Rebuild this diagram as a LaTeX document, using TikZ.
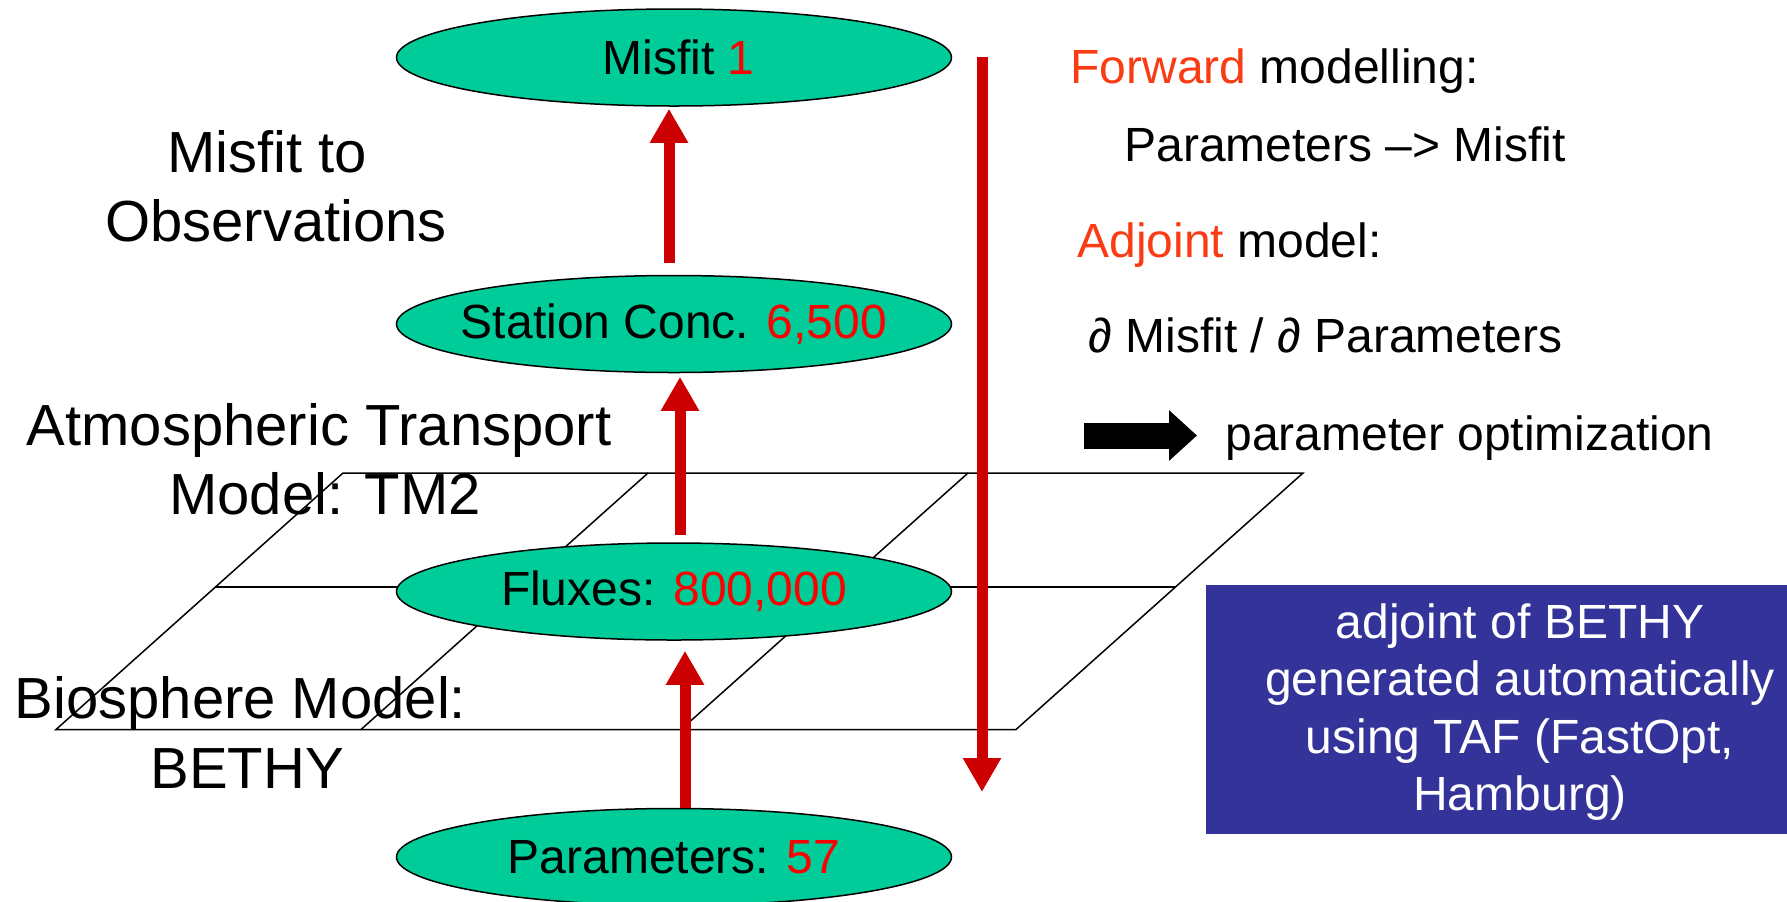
\documentclass[tikz,border=0pt]{standalone}
\usepackage{fontspec}
\setmainfont{Liberation Sans}
\usetikzlibrary{arrows.meta,shapes.geometric}
\definecolor{ellfill}{RGB}{0,204,153}
\definecolor{arrred}{RGB}{204,0,0}
\definecolor{numred}{RGB}{255,0,0}
\definecolor{hlred}{RGB}{250,60,20}
\definecolor{boxblue}{RGB}{51,51,153}
\newcommand\myfontA{\fontsize{24}{28.7}\selectfont}
\newcommand\myfontB{\fontsize{29}{34}\selectfont}
\begin{document}
\begin{tikzpicture}[x=0.5pt,y=-0.5pt,
  ell/.style={ellipse, draw=black, line width=0.75pt, fill=ellfill, minimum width=277.5pt, minimum height=48.5pt, inner sep=0pt, font=\myfontA},
  biglbl/.style={anchor=base, inner sep=0pt, font=\myfontB},
  rtxt/.style={anchor=base west, inner sep=0pt, font=\myfontA},
  gridline/.style={draw=black, line width=0.75pt},
  redarr/.style={draw=arrred, line width=5.5pt, -{Triangle[length=17pt,width=18pt]}},
  blackarr/.style={draw=black, line width=13pt, -{Triangle[length=14pt,width=24.5pt]}},
  bluebox/.style={rectangle, fill=boxblue, inner sep=0pt, minimum width=290.5pt, minimum height=124.5pt}
]
\useasboundingbox (0,0) rectangle (1787,901);

% left labels
\node[biglbl] (l1a) at (267,172.6) {Misfit to};
\node[biglbl] (l1b) at (276,241) {Observations};
\node[biglbl] (l2a) at (319,445) {Atmospheric Transport};
\node[biglbl] (l2b) at (325,514.5) {Model: TM2};
\node[biglbl] (l3a) at (240.5,718.5) {Biosphere Model:};
\node[biglbl] (l3b) at (247,788) {BETHY};

% grid
\coordinate (g1) at (343,473);
\coordinate (g2) at (648,473);
\coordinate (g3) at (968,473);
\coordinate (g4) at (1303,473);
\coordinate (h1) at (56,729.5);
\coordinate (h2) at (361,729.5);
\coordinate (h3) at (681,729.5);
\coordinate (h4) at (1016,729.5);
\coordinate (m1) at (215.4,587);
\coordinate (m2) at (1175.4,587);
\draw[gridline] (g1) -- (g4) -- (h4) -- (h1) -- cycle;
\draw[gridline] (g2) -- (h2);
\draw[gridline] (g3) -- (h3);
\draw[gridline] (m1) -- (m2);

% ellipses
\node[ell] (misfit) at (674,57.5) {\makebox[0pt]{\hspace*{4.5pt}Misfit \textcolor{numred}{1}}};
\node[ell] (station) at (674,324) {\makebox[0pt]{Station Conc. \textcolor{numred}{6,500}}};
\node[ell] (fluxes) at (674,591.5) {\makebox[0pt]{Fluxes: \textcolor{numred}{800,000}}};
\node[ell] (params) at (674,857) {\makebox[0pt]{Parameters: \textcolor{numred}{57}}};

% red arrows
\draw[redarr] ([xshift=-2.5pt,yshift=5.75pt]station.north) -- ([xshift=-2.5pt,yshift=-1pt]misfit.south);
\draw[redarr] ([xshift=3pt,yshift=3.5pt]fluxes.north) -- ([xshift=3pt,yshift=-1.75pt]station.south);
\draw[redarr] ([xshift=5.5pt]params.north) -- ([xshift=5.5pt,yshift=-5pt]fluxes.south);
\coordinate (dtop) at (982,57);
\coordinate (dbot) at (982,792);
\draw[redarr] (dtop) -- (dbot);

% right text
\node[rtxt] (fw) at (1070,83) {\textcolor{hlred}{Forward} modelling:};
\node[rtxt] (pm) at (1124,161) {Parameters \textendash> Misfit};
\node[rtxt] (ad) at (1077,257) {\textcolor{hlred}{Adjoint} model:};
\node[rtxt] (dd) at (1088,352) {∂ Misfit / ∂ Parameters};
\coordinate (ba1) at (1084,435.5);
\coordinate (ba2) at (1197,435.5);
\draw[blackarr] (ba1) -- (ba2);
\node[rtxt] (po) at (1225,450) {parameter optimization};

% blue box
\node[bluebox] (box) at (1496.5,709.5) {};
\node[text=white, align=center, inner sep=0pt, font=\myfontA] (boxtxt) at (1520,712) {adjoint of BETHY\\generated automatically\\using TAF (FastOpt,\\Hamburg)};
\end{tikzpicture}
\end{document}
